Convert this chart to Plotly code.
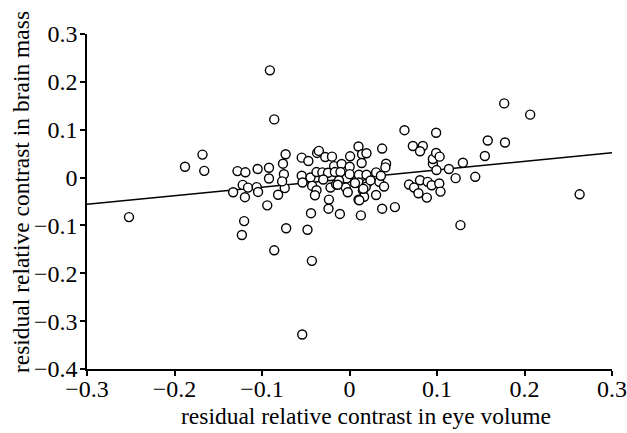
import plotly.graph_objects as go

# residual relative contrast in eye volume (x) and brain mass (y)
eye_volume = [
    -0.091, -0.086, -0.188, -0.168, -0.166, -0.252, -0.128, -0.119, -0.105, -0.092,
    -0.092, -0.076, -0.073, -0.075, -0.122, -0.116, -0.106, -0.1045, -0.133, -0.1195,
    -0.1204, -0.123, -0.094, -0.0816, -0.074, -0.077, -0.0724, -0.086, -0.0546, -0.047,
    -0.037, -0.035, -0.0277, -0.020, -0.0546, -0.0446, -0.0377, -0.031, -0.0245, -0.0176,
    -0.0167, -0.009, -0.0103, -0.0537, -0.0427, -0.0377, -0.0395, -0.0217, -0.0153, -0.0235,
    -0.024, -0.011, -0.044, -0.048, -0.043, -0.054, -0.0034, -0.0043, -0.002, 0.0007,
    0.0002, 0.0002, 0.0103, 0.0144, 0.0194, 0.0139, 0.0107, 0.0107, 0.0194, 0.0199,
    0.0185, 0.0153, 0.0167, 0.0103, 0.0112, 0.013, 0.0304, 0.034, 0.0304, 0.0373,
    0.0418, 0.041, 0.0359, 0.0395, 0.0373, 0.0519, 0.0628, 0.0724, 0.0838, 0.0806,
    0.068, 0.0738, 0.0806, 0.0788, 0.0884, 0.0893, 0.0953, 0.0953, 0.0939, 0.099,
    0.099, 0.103, 0.0994, 0.1026, 0.104, 0.1136, 0.1213, 0.1296, 0.1268, 0.1437,
    0.1547, 0.158, 0.1768, 0.1777, 0.2065, 0.263, -0.030, -0.012, 0.024, 0.0063,
    -0.0135, 0.0158,
]
brain_mass = [
    0.224, 0.1216, 0.0227, 0.048, 0.014, -0.0826, 0.0135, 0.011, 0.0178, 0.0206,
    -0.002, 0.029, 0.0487, 0.007, -0.0153, -0.021, -0.020, -0.030, -0.0307, -0.041,
    -0.091, -0.120, -0.058, -0.036, -0.022, -0.008, -0.106, -0.152, 0.0416, 0.0346,
    0.0515, 0.0557, 0.043, 0.0437, 0.0037, 0.0002, 0.0115, 0.0108, 0.010, 0.024,
    0.0115, 0.0283, 0.0115, -0.0104, -0.0174, -0.0265, -0.037, -0.0209, -0.0139, -0.046,
    -0.065, -0.076, -0.0744, -0.109, -0.174, -0.328, -0.002, -0.021, -0.0307, 0.0444,
    0.0227, 0.0072, 0.065, 0.0487, 0.0508, 0.0304, 0.0058, -0.0104, 0.0058, -0.0125,
    -0.0195, -0.0265, -0.040, -0.046, -0.0475, -0.079, 0.0108, -0.0089, -0.0364, 0.0606,
    0.029, 0.0213, 0.0037, -0.0188, -0.065, -0.0617, 0.099, 0.066, 0.066, 0.055,
    -0.0146, -0.0209, -0.0055, -0.0328, -0.0419, -0.0089, 0.029, 0.0388, -0.016, 0.0936,
    0.0515, 0.0437, 0.0157, -0.0125, -0.0293, 0.0178, -0.0012, 0.031, -0.0994, 0.0016,
    0.0451, 0.0774, 0.155, 0.0732, 0.1315, -0.035, -0.004, -0.006, -0.006, -0.0116,
    -0.0151, -0.0235,
]

# fitted regression line (read at the axis ends)
fit_x = [-0.3, 0.3]
fit_y = [-0.056, 0.052]

x_ticks = [-0.3, -0.2, -0.1, 0, 0.1, 0.2, 0.3]
x_tick_text = ["\u22120.3", "\u22120.2", "\u22120.1", "0", "0.1", "0.2", "0.3"]
y_ticks = [-0.4, -0.3, -0.2, -0.1, 0, 0.1, 0.2, 0.3]
y_tick_text = ["\u22120.4", "\u22120.3", "\u22120.2", "\u22120.1", "0", "0.1", "0.2", "0.3"]

x_title = "residual relative contrast in eye volume"
y_title = "residual relative contrast in brain mass"

FONT = "Liberation Serif, Times New Roman, serif"

fig = go.Figure()
fig.add_trace(go.Scatter(
    x=fit_x, y=fit_y, mode="lines",
    line=dict(color="black", width=1.5),
    showlegend=False, hoverinfo="skip",
))
fig.add_trace(go.Scatter(
    x=eye_volume, y=brain_mass, mode="markers",
    marker=dict(symbol="circle", size=9, color="white",
                line=dict(color="black", width=1.4)),
    showlegend=False,
))

axis_common = dict(
    showgrid=False, zeroline=False, showline=True, linecolor="black", linewidth=1.5,
    ticks="outside", ticklen=5, tickwidth=1.5, tickcolor="black",
    tickfont=dict(family=FONT, size=24, color="black"),
)

fig.update_xaxes(range=[-0.3, 0.3], tickvals=x_ticks, ticktext=x_tick_text,
                 ticklabelstandoff=-8, **axis_common)
fig.update_yaxes(range=[-0.4, 0.3], tickvals=y_ticks, ticktext=y_tick_text,
                 ticklabelstandoff=-2, **axis_common)

fig.add_annotation(text=x_title, xref="paper", yref="paper",
                   x=0.532, y=-0.14, xanchor="center", yanchor="middle",
                   showarrow=False, font=dict(family=FONT, size=23.5, color="black"))
fig.add_annotation(text=y_title, xref="paper", yref="paper", textangle=-90,
                   x=-0.127, y=0.529, xanchor="center", yanchor="middle",
                   showarrow=False, font=dict(family=FONT, size=23.5, color="black"))

fig.update_layout(
    width=627, height=433,
    margin=dict(l=87, r=15, t=34, b=64, autoexpand=False),
    plot_bgcolor="white", paper_bgcolor="white",
    font=dict(family=FONT, size=22, color="black"),
)

fig.write_html("out.html")
